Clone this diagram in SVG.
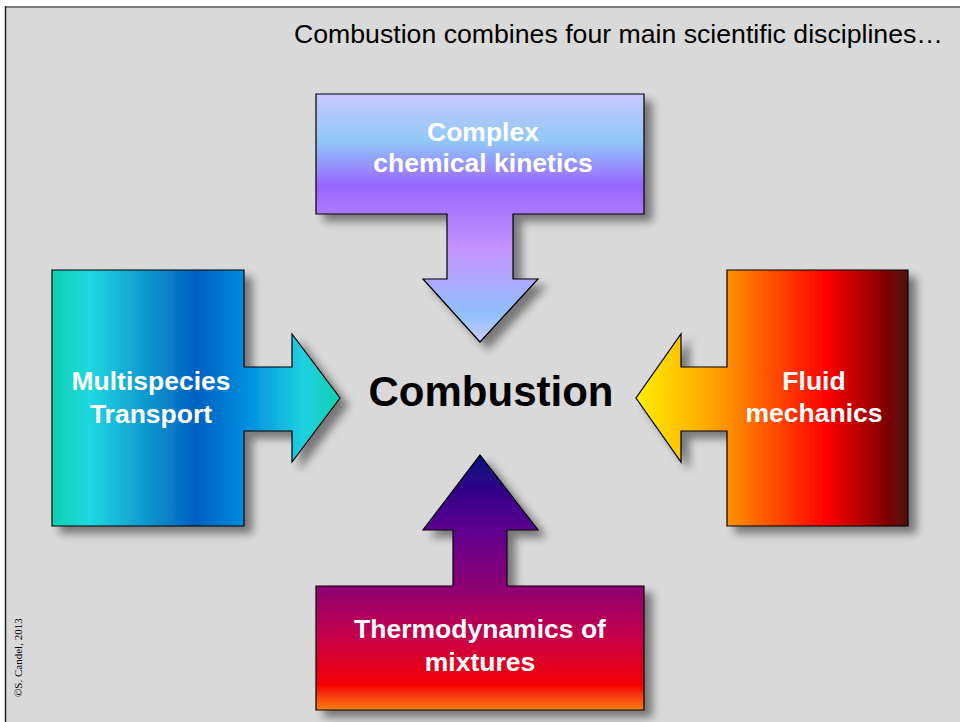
<svg xmlns="http://www.w3.org/2000/svg" width="960" height="722" viewBox="0 0 960 722">
<style>
.lbl{font-family:"Liberation Sans",Arial,sans-serif;font-weight:bold;font-size:26.5px;fill:#fff;text-anchor:middle}
.shape{stroke:#000;stroke-width:1.2;filter:url(#shadow)}
</style>
<defs>
<filter id="shadow" x="-20%" y="-20%" width="150%" height="150%">
<feDropShadow dx="8" dy="7" stdDeviation="4" flood-color="#000" flood-opacity="0.45"/>
</filter>
<linearGradient id="gTop" gradientUnits="userSpaceOnUse" x1="0" y1="94" x2="0" y2="342">
<stop offset="0" stop-color="#c8c8fc"/>
<stop offset="0.19" stop-color="#90c8f8"/>
<stop offset="0.37" stop-color="#9966ff"/>
<stop offset="0.63" stop-color="#c494ff"/>
<stop offset="0.89" stop-color="#90c0fc"/>
<stop offset="1" stop-color="#ccccff"/>
</linearGradient>
<linearGradient id="gLeft" gradientUnits="userSpaceOnUse" x1="52" y1="0" x2="340" y2="0">
<stop offset="0" stop-color="#0cd0b0"/>
<stop offset="0.13" stop-color="#20d8e0"/>
<stop offset="0.5" stop-color="#0060c0"/>
<stop offset="0.68" stop-color="#0090e0"/>
<stop offset="0.87" stop-color="#20d0e0"/>
<stop offset="1" stop-color="#10d0b0"/>
</linearGradient>
<linearGradient id="gRight" gradientUnits="userSpaceOnUse" x1="636" y1="0" x2="908" y2="0">
<stop offset="0" stop-color="#ffee00"/>
<stop offset="0.24" stop-color="#ffb000"/>
<stop offset="0.36" stop-color="#ff8800"/>
<stop offset="0.7" stop-color="#ff0000"/>
<stop offset="1" stop-color="#500808"/>
</linearGradient>
<linearGradient id="gBottom" gradientUnits="userSpaceOnUse" x1="0" y1="455" x2="0" y2="710">
<stop offset="0" stop-color="#0a0a80"/>
<stop offset="0.3" stop-color="#600090"/>
<stop offset="0.53" stop-color="#900070"/>
<stop offset="0.72" stop-color="#c80048"/>
<stop offset="0.9" stop-color="#f40004"/>
<stop offset="1" stop-color="#ff8010"/>
</linearGradient>
</defs>
<rect x="0" y="0" width="960" height="722" fill="#ffffff"/>
<rect x="5" y="6" width="955" height="716" fill="#d9d9d9"/>
<line x1="5" y1="7" x2="960" y2="7" stroke="#7a7a7a" stroke-width="2"/>
<line x1="5.5" y1="6" x2="5.5" y2="722" stroke="#222" stroke-width="1.5"/>
<text x="294" y="43" font-family="'Liberation Sans',Arial,sans-serif" font-size="26" fill="#000" textLength="649" lengthAdjust="spacingAndGlyphs">Combustion combines four main scientific disciplines…</text>
<text transform="translate(22,697) rotate(-90)" font-family="'Liberation Serif','Times New Roman',serif" font-size="11" fill="#000">©S. Candel, 2013</text>
<g id="connectors"></g>
<g id="kinetics">
<path class="shape" fill="url(#gTop)" d="M316,94 H644 V214 H513 V279 H538 L480,342 L423,279 H447 V214 H316 Z"/>
<text class="lbl" x="483" y="141">Complex</text>
<text class="lbl" x="483" y="172">chemical kinetics</text>
</g>
<g id="transport">
<path class="shape" fill="url(#gLeft)" d="M52,270 H244 V367 H292 V334 L340,398 L292,462 V431 H244 V526 H52 Z"/>
<text class="lbl" x="151" y="390">Multispecies</text>
<text class="lbl" x="151" y="423">Transport</text>
</g>
<g id="fluid">
<path class="shape" fill="url(#gRight)" d="M908,270 V526 H727 V431 H681 V462 L636,398 L681,334 V367 H727 V270 Z"/>
<text class="lbl" x="814" y="390">Fluid</text>
<text class="lbl" x="814" y="422">mechanics</text>
</g>
<g id="thermo">
<path class="shape" fill="url(#gBottom)" d="M316,586 H453 V530 H423 L480,455 L538,530 H507 V586 H644 V710 H316 Z"/>
<text class="lbl" x="480" y="638">Thermodynamics of</text>
<text class="lbl" x="480" y="671">mixtures</text>
</g>
<g id="combustion">
<text x="491" y="406" font-family="'Liberation Sans',Arial,sans-serif" font-weight="bold" font-size="42" fill="#000" text-anchor="middle">Combustion</text>
</g>
</svg>
